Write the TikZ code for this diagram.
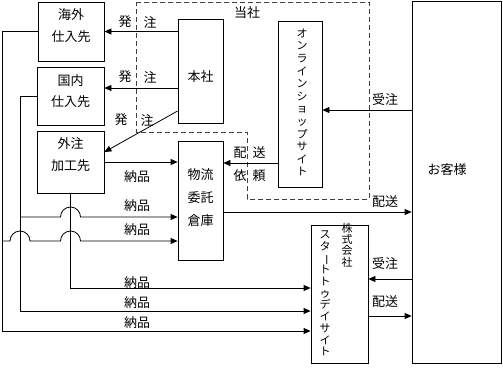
\documentclass[tikz,border=0pt]{standalone}
\usepackage{fontspec}
\usepackage{graphicx}
\setmainfont{Noto Sans CJK JP}
\usetikzlibrary{arrows.meta,calc}
\newcommand\vbarchar{\rotatebox[origin=c]{-90}{ー}}
\begin{document}
\begin{tikzpicture}[x=1pt,y=-1pt,
  box/.style={draw,line width=0.8pt,inner sep=0pt},
  txt/.style={align=center,inner sep=0pt,font=\fontsize{13}{21.5}\selectfont},
  arr/.style={line width=0.8pt,-{Triangle[length=7pt,width=6pt]}},
  lab/.style={font=\fontsize{13}{15}\selectfont,inner sep=0pt},
  vt/.style={align=center,inner sep=0pt},
  dashbox/.style={line width=0.8pt,draw=black!75,dash pattern=on 5pt off 3pt}]
\useasboundingbox (0,0) rectangle (503,367);
% company region
\draw[dashbox] (136,2) -- (369,2) -- (369,199) -- (247,199) -- (247,132) -- (136,132) -- cycle;
\node[lab] (tousha) at (247,13) {当社};
% boxes
\node[box,minimum width=66pt,minimum height=59pt] (kaigai) at (71,31.5) {};
\node[txt] (kaigait) at (71,25.5) {海外\\仕入先};
\node[box,minimum width=67pt,minimum height=58pt] (kokunai) at (70.5,96) {};
\node[txt] (kokunait) at (70.5,91) {国内\\仕入先};
\node[box,minimum width=67pt,minimum height=62pt] (gaichu) at (70.5,162) {};
\node[txt] (gaichut) at (70.5,154.5) {外注\\加工先};
\node[box,minimum width=45pt,minimum height=104pt] (honsha) at (200.5,71) {};
\node[lab] (honshat) at (200.5,77) {本社};
\node[box,minimum width=44pt,minimum height=166pt] (online) at (300,104) {};
\node[vt,font=\fontsize{11}{12.6}\selectfont] (onlinet) at (302,102.5) {オ\\ン\\ラ\\イ\\ン\\シ\\ョ\\ッ\\プ\\サ\\イ\\ト};
\node[box,minimum width=45pt,minimum height=119pt] (butsuryu) at (200.5,200.5) {};
\node[txt,font=\fontsize{13}{23}\selectfont] (butsuryut) at (200.5,198) {物流\\委託\\倉庫};
\node[box,minimum width=89pt,minimum height=362pt] (okyaku) at (456.5,182) {};
\node[lab] (okyakut) at (447,170) {お客様};
\node[box,minimum width=57pt,minimum height=138pt] (start) at (339.5,294) {};
\node[vt,font=\fontsize{11}{11.3}\selectfont] (startt1) at (347,245) {株\\式\\会\\社};
\node[vt,font=\fontsize{11}{11.7}\selectfont] (startt2) at (325,293.5) {ス\\タ\\\vbarchar\\ト\\ト\\ゥ\\デ\\イ\\サ\\イ\\ト};
% orders from head office
\draw[arr] (honsha.west |- kaigai) -- (kaigai.east);
\coordinate (p2) at ([yshift=-17pt]honsha.west);
\draw[arr] (p2) -- (p2 -| kokunai.east);
\coordinate (p3) at ([yshift=-40pt]honsha.west);
\draw[arr] (p3) -- ([yshift=10pt]gaichu.east);
\node[lab] (h1a) at (125,22) {発};
\node[lab] (h1b) at (150,22) {注};
\node[lab] (h2a) at (125,77) {発};
\node[lab] (h2b) at (150,77) {注};
\node[lab] (h3a) at (121,120) {発};
\node[lab] (h3b) at (147,120) {注};
% warehouse
\draw[arr] (gaichu.east) -- (gaichu.east -| butsuryu.west);
\coordinate (p5) at ([yshift=-59pt]online.west);
\draw[arr] (p5) -- (p5 -| butsuryu.east);
\node[lab] (ha) at (240,153) {配};
\node[lab] (so) at (259,153) {送};
\node[lab] (i) at (240,176) {依};
\node[lab] (rai) at (259,176) {頼};
% customer
\coordinate (p6) at ([yshift=-6pt]online.east);
\draw[arr] (p6 -| okyaku.west) -- (p6);
\node[lab] (ju1) at (385,100) {受注};
\coordinate (p7) at ([yshift=-11.5pt]butsuryu.east);
\draw[arr] (p7) -- (p7 -| okyaku.west);
\node[lab] (hs1) at (385,202) {配送};
\coordinate (p8) at ([yshift=15pt]start.east);
\draw[arr] (p8 -| okyaku.west) -- (p8);
\node[lab] (ju2) at (385,264) {受注};
\coordinate (p9) at ([yshift=-22pt]start.east);
\draw[arr] (p9) -- (p9 -| okyaku.west);
\node[lab] (hs2) at (385,302) {配送};
% left deliveries
\coordinate (v1) at (2,0);
\coordinate (v2) at (20,0);
\coordinate (t1) at ([yshift=-37pt]start.west);
\draw[arr] (kaigai.west) -| (v1 |- t1) -- (t1);
\coordinate (t2) at ([yshift=-17pt]start.west);
\draw[arr] (kokunai.west) -| (v2 |- t2) -- (t2);
\coordinate (t3) at ([yshift=6pt]start.west);
\draw[arr] (gaichu.south) |- (t3);
\coordinate (b1) at ([yshift=-16.5pt]butsuryu.west);
\coordinate (g1) at (gaichu.south |- b1);
\draw[arr] (v2 |- b1) -- ([xshift=-10pt]g1) arc[start angle=180,end angle=0,radius=10pt] -- (b1);
\coordinate (b2) at ([yshift=-40.5pt]butsuryu.west);
\coordinate (g2) at (gaichu.south |- b2);
\coordinate (k2) at (v2 |- b2);
\draw[arr] (v1 |- b2) -- ([xshift=-10pt]k2) arc[start angle=180,end angle=0,radius=10pt] -- ([xshift=-10pt]g2) arc[start angle=180,end angle=0,radius=10pt] -- (b2);
\node[lab] (n1) at (137,177) {納品};
\node[lab] (n2) at (137,206) {納品};
\node[lab] (n3) at (137,230) {納品};
\node[lab] (n4) at (137,283) {納品};
\node[lab] (n5) at (137,303) {納品};
\node[lab] (n6) at (137,323) {納品};
\end{tikzpicture}
\end{document}
